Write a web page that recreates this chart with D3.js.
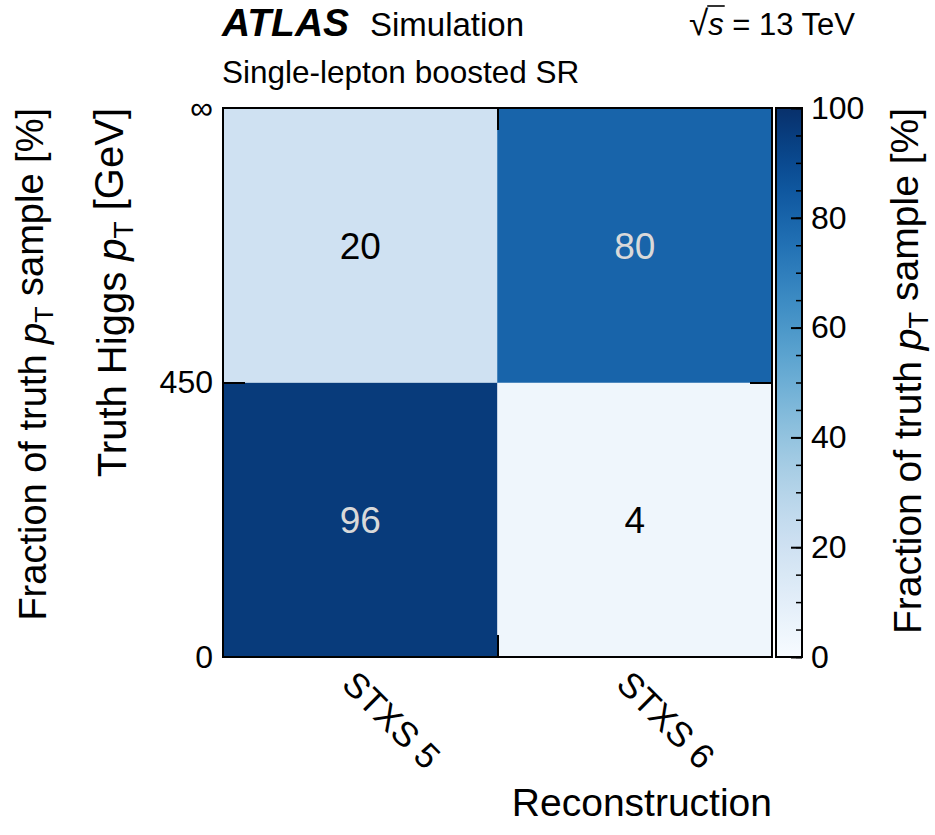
<!DOCTYPE html>
<html>
<head>
<meta charset="utf-8">
<script src="https://cdn.jsdelivr.net/npm/d3@7"></script>
<style>
  body { margin: 0; background: #fff; }
  svg text { font-family: "Liberation Sans", Arial, Helvetica, sans-serif; fill: #000; }
</style>
</head>
<body>
<svg id="chart" width="935" height="835"></svg>
<script>
// Reconstructed STXS categories (columns)
const recoBins = ["STXS 5", "STXS 6"];
// Truth Higgs pT bins (rows, bottom to top) and their edges
const truthBins = ["0-450", "450-inf"];
const truthEdges = ["0", "450", "\u221E"];
// Fraction of each truth pT sample [%] falling in each reco category
const fractionLowPt = [96, 4];    // truth pT 0-450 GeV
const fractionHighPt = [20, 80];  // truth pT > 450 GeV
// Colour bar tick labels
const colorTicks = [0, 20, 40, 60, 80, 100];
const colorMinorTicks = d3.range(0, 101, 5);

const svg = d3.select("#chart");
const plotL = 223, plotR = 772, plotT = 108, plotB = 657;
const cbL = 776, cbR = 802;

const x = d3.scaleBand().domain(recoBins).range([plotL, plotR]);
const y = d3.scaleBand().domain(truthBins).range([plotB, plotT]);
const xEdge = d3.scaleLinear().domain([0, recoBins.length]).range([plotL, plotR]);
const yEdge = d3.scaleLinear().domain([0, truthBins.length]).range([plotB, plotT]);
const color = d3.scaleSequential(d3.interpolateBlues).domain([0, 100]);

const cells = [];
[fractionLowPt, fractionHighPt].forEach((row, i) => {
  row.forEach((v, j) => cells.push({ reco: recoBins[j], truth: truthBins[i], value: v }));
});

// Heat-map cells
svg.append("g").selectAll("rect").data(cells).join("rect")
  .attr("x", d => x(d.reco))
  .attr("y", d => y(d.truth))
  .attr("width", x.bandwidth())
  .attr("height", y.bandwidth())
  .attr("fill", d => color(d.value))
  .attr("stroke", d => color(d.value))
  .attr("stroke-width", 0.5);

// Cell values
svg.append("g").selectAll("text").data(cells).join("text")
  .attr("x", d => x(d.reco) + x.bandwidth() / 2)
  .attr("y", d => y(d.truth) + y.bandwidth() / 2)
  .attr("text-anchor", "middle")
  .attr("dy", "0.36em")
  .style("font-size", "37px")
  .style("fill", d => d.value > 50 ? "#d9d9d9" : "#000")
  .text(d => d.value);

// Inner tick marks at bin boundaries
const innerX = d3.range(1, recoBins.length);
const innerY = d3.range(1, truthBins.length);
function styleAxis(g) {
  g.select(".domain").remove();
  g.selectAll(".tick line").attr("stroke", "#000").attr("stroke-width", 2);
}
svg.append("g").attr("transform", `translate(0,${plotB})`)
  .call(d3.axisBottom(xEdge).tickValues(innerX).tickSize(-22).tickFormat("")).call(styleAxis);
svg.append("g").attr("transform", `translate(0,${plotT})`)
  .call(d3.axisTop(xEdge).tickValues(innerX).tickSize(-22).tickFormat("")).call(styleAxis);
svg.append("g").attr("transform", `translate(${plotL},0)`)
  .call(d3.axisLeft(yEdge).tickValues(innerY).tickSize(-22).tickFormat("")).call(styleAxis);
svg.append("g").attr("transform", `translate(${plotR},0)`)
  .call(d3.axisRight(yEdge).tickValues(innerY).tickSize(-22).tickFormat("")).call(styleAxis);

// Truth pT edge labels
const yLab = svg.append("g").attr("transform", `translate(${plotL},0)`)
  .call(d3.axisLeft(yEdge).tickValues(d3.range(truthEdges.length)).tickSize(0).tickPadding(10)
    .tickFormat(i => truthEdges[i]));
yLab.select(".domain").remove();
yLab.selectAll("text").style("font-size", "32px").style("font-family", '"Liberation Sans", Arial, sans-serif');

// Frame
svg.append("rect").attr("x", plotL).attr("y", plotT)
  .attr("width", plotR - plotL).attr("height", plotB - plotT)
  .attr("fill", "none").attr("stroke", "#000").attr("stroke-width", 2);

// Rotated reco category labels
svg.append("g").selectAll("text").data(recoBins).join("text")
  .attr("transform", d => `translate(${x(d) + x.bandwidth() / 2 - 20},${plotB + 29}) rotate(45)`)
  .style("font-size", "35px")
  .text(d => d);

// Colour bar
const defs = svg.append("defs");
const grad = defs.append("linearGradient").attr("id", "cbGrad")
  .attr("x1", 0).attr("y1", 1).attr("x2", 0).attr("y2", 0);
d3.range(0, 1.0001, 0.05).forEach(t => {
  grad.append("stop").attr("offset", t).attr("stop-color", color(t * 100));
});
const cScale = d3.scaleLinear().domain([0, 100]).range([plotB, plotT]);
svg.append("rect").attr("x", cbL).attr("y", plotT)
  .attr("width", cbR - cbL).attr("height", plotB - plotT)
  .attr("fill", "url(#cbGrad)").attr("stroke", "#000").attr("stroke-width", 2);
const cMinor = svg.append("g").attr("transform", `translate(${cbR},0)`)
  .call(d3.axisRight(cScale).tickValues(colorMinorTicks).tickSize(-6).tickFormat(""));
cMinor.select(".domain").remove();
cMinor.selectAll(".tick line").attr("stroke", "#000").attr("stroke-width", 1.5);
const cMajor = svg.append("g").attr("transform", `translate(${cbR},0)`)
  .call(d3.axisRight(cScale).tickValues(colorTicks).tickSize(-11).tickPadding(9));
cMajor.select(".domain").remove();
cMajor.selectAll(".tick line").attr("stroke", "#000").attr("stroke-width", 2);
cMajor.selectAll("text").style("font-size", "32px").style("font-family", '"Liberation Sans", Arial, sans-serif');

// Axis titles with p_T
function pT(sel) {
  sel.append("tspan").style("font-style", "italic").text("p");
  sel.append("tspan").attr("dy", "0.25em").style("font-size", "0.7em").text("T");
  sel.append("tspan").attr("dy", "-0.25em").text("\u00A0");
}
function rotTitle(xPos, size, before, after) {
  const t = svg.append("text")
    .attr("transform", `translate(${xPos},${plotT}) rotate(-90)`)
    .attr("text-anchor", "end")
    .style("font-size", size + "px");
  t.append("tspan").text(before);
  pT(t);
  t.append("tspan").text(after);
  return t;
}
rotTitle(126, 40, "Truth Higgs ", "[GeV]");
rotTitle(46, 38, "Fraction of truth ", "sample [%]");
rotTitle(921, 39, "Fraction of truth ", "sample [%]");

svg.append("text").attr("x", plotR).attr("y", 816)
  .attr("text-anchor", "end").style("font-size", "39px").text("Reconstruction");

// Header
svg.append("text").attr("x", 222).attr("y", 36)
  .style("font-size", "39px").style("font-weight", "bold").style("font-style", "italic").text("ATLAS");
svg.append("text").attr("x", 370).attr("y", 36).style("font-size", "33px").text("Simulation");
svg.append("text").attr("x", 222).attr("y", 83).style("font-size", "31.5px").text("Single-lepton boosted SR");

const ecm = svg.append("text").attr("x", 855).attr("y", 35).attr("text-anchor", "end").style("font-size", "31px");
ecm.append("tspan").style("font-size", "35px").text("\u221A");
ecm.append("tspan").style("font-style", "italic").text("s");
ecm.append("tspan").text(" = 13 TeV");
const rootExt = ecm.node().getExtentOfChar(0);
const sExt = ecm.node().getExtentOfChar(1);
svg.append("line")
  .attr("x1", rootExt.x + rootExt.width - 1).attr("x2", sExt.x + sExt.width + 1)
  .attr("y1", rootExt.y + 3).attr("y2", rootExt.y + 3)
  .attr("stroke", "#000").attr("stroke-width", 1.6);
</script>
</body>
</html>
